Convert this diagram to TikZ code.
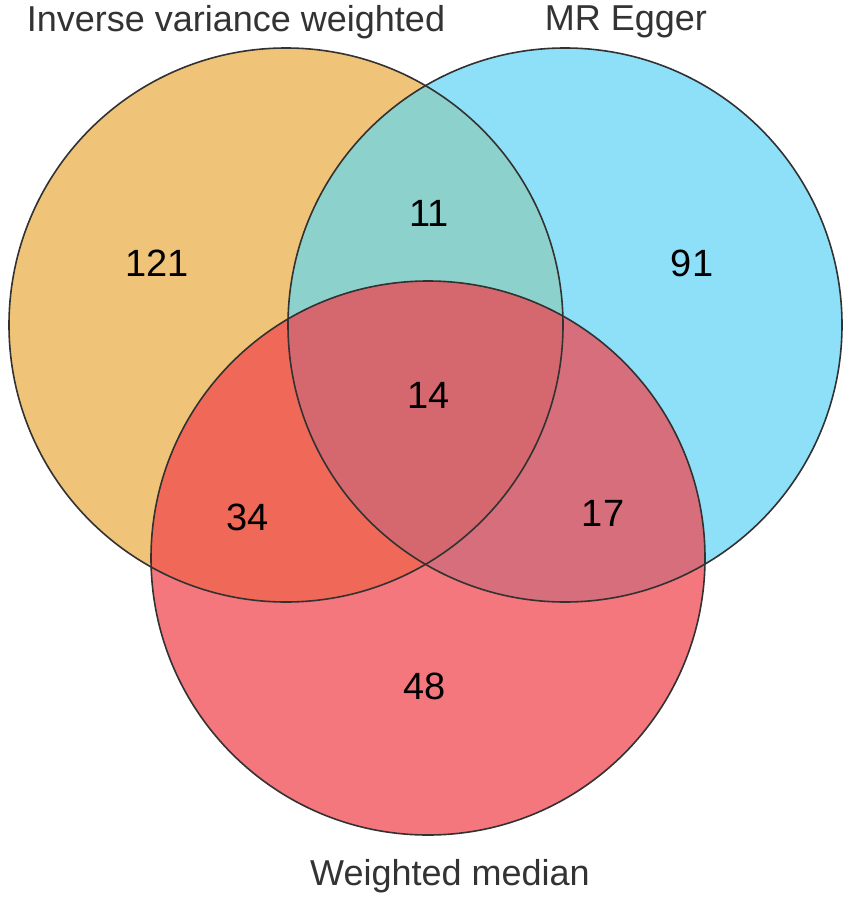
\documentclass[tikz,border=0pt]{standalone}
\usepackage{fontspec}
\setmainfont{Liberation Sans}
\definecolor{cA}{RGB}{240,196,120}
\definecolor{cB}{RGB}{142,224,248}
\definecolor{cC}{RGB}{244,119,125}
\definecolor{cAB}{RGB}{140,209,204}
\definecolor{cAC}{RGB}{240,104,88}
\definecolor{cBC}{RGB}{214,110,124}
\definecolor{cABC}{RGB}{213,104,110}
\definecolor{edge}{RGB}{50,50,50}
\definecolor{lbl}{RGB}{51,51,51}
\begin{document}
\begin{tikzpicture}[x=1pt,y=1pt,
  setlabel/.style={font=\fontsize{36}{40}\selectfont, text=lbl, inner sep=0pt},
  count/.style={font=\fontsize{38}{42}\selectfont, text=black, inner sep=0pt},
  outline/.style={draw=edge, line width=1.6pt}]
\useasboundingbox (0,0) rectangle (851,-902);
\fill[white] (0,0) rectangle (851,-902);
\def\R{277}
\coordinate (A) at (286,-325);
\coordinate (B) at (565,-325);
\coordinate (C) at (428,-558);
% single sets
\fill[cA] (A) circle (\R);
\fill[cB] (B) circle (\R);
\fill[cC] (C) circle (\R);
% pairwise
\begin{scope}\clip (A) circle (\R); \fill[cAB] (B) circle (\R); \end{scope}
\begin{scope}\clip (A) circle (\R); \fill[cAC] (C) circle (\R); \end{scope}
\begin{scope}\clip (B) circle (\R); \fill[cBC] (C) circle (\R); \end{scope}
% triple
\begin{scope}\clip (A) circle (\R); \clip (B) circle (\R); \fill[cABC] (C) circle (\R); \end{scope}
% outlines
\draw[outline] (A) circle (\R);
\draw[outline] (B) circle (\R);
\draw[outline] (C) circle (\R);
% labels
\node[setlabel] (lA) at (236,-22) {Inverse variance weighted};
\node[setlabel] (lB) at (626,-22) {MR Egger};
\node[setlabel] (lC) at (450,-876) {Weighted median};
% counts
\node[count] (nA) at (157,-263) {121};
\node[count] (nAB) at (429,-213) {11};
\node[count] (nB) at (692,-263) {91};
\node[count] (nABC) at (429,-395) {14};
\node[count] (nAC) at (248,-517) {34};
\node[count] (nBC) at (603,-513) {17};
\node[count] (nC) at (425,-686) {48};
\end{tikzpicture}
\end{document}
